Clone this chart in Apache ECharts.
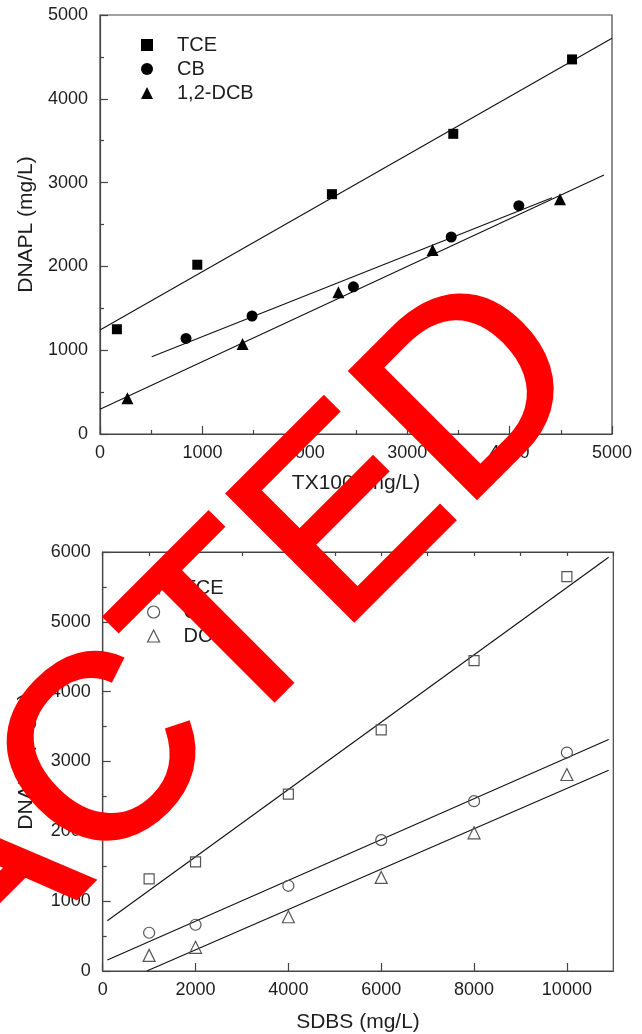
<!DOCTYPE html>
<html><head><meta charset="utf-8">
<script src="https://cdn.jsdelivr.net/npm/echarts@6/dist/echarts.min.js"></script>
<style>html,body{margin:0;padding:0;background:#fff}#c{width:642px;height:1034px}</style>
</head><body><div id="c"></div>
<script>
// ---- Top panel (TX100) ----
const topXTicks = [0, 1000, 2000, 3000, 4000, 5000];
const topYTicks = [0, 1000, 2000, 3000, 4000, 5000];
const topNames = ['TCE', 'CB', '1,2-DCB'];
const tceTX = [[165, 1250], [950, 2020], [2265, 2862], [3450, 3582], [4610, 4470]];
const cbTX = [[840, 1140], [1485, 1408], [2475, 1756], [3430, 2351], [4090, 2724]];
const dcbTX = [[268, 428], [1392, 1074], [2328, 1692], [3248, 2196], [4492, 2802]];
const tceTXFit = [[0, 1240], [5000, 4722]];
const cbTXFit = [[505, 922], [4414, 2820]];
const dcbTXFit = [[0, 294], [4922, 3091]];

// ---- Bottom panel (SDBS) ----
const botXTicks = [0, 2000, 4000, 6000, 8000, 10000];
const botYTicks = [0, 1000, 2000, 3000, 4000, 5000, 6000];
const botNames = ['TCE', 'CB', 'DCB'];
const sdbsX = [1000, 2000, 4000, 6000, 8000, 10000];
const tceSD = [1320, 1564, 2532, 3452, 4445, 5646];
const cbSD = [548, 662, 1220, 1874, 2432, 3128];
const dcbSD = [224, 339, 777, 1340, 1979, 2814];
const tceSDFit = [[100, 720], [10900, 5925]];
const cbSDFit = [[100, 157], [10900, 3315]];
const dcbSDFit = [[950, 0], [10900, 2876]];

const overlayText = 'REDACTED';

const FONT = '"Liberation Sans", Arial, Helvetica, sans-serif';
const TXT = '#1e1e1e';
const AX = '#444';
const HOLLOW = { color: '#fff', borderColor: '#555', borderWidth: 1.2 };
const pair = (xs, ys) => xs.map((x, i) => [x, ys[i]]);
const plain = v => String(v);

function valAxis(gridIndex, min, max, interval, opts) {
  return Object.assign({
    type: 'value', gridIndex, min, max, interval,
    axisLine: { show: true, lineStyle: { color: AX, width: 1.2 } },
    axisTick: { show: true, inside: true, length: 8, lineStyle: { color: AX, width: 1.2 } },
    minorTick: { show: true, splitNumber: 2, length: 4, lineStyle: { color: AX, width: 1.2 } },
    splitLine: { show: false },
    minorSplitLine: { show: false },
    axisLabel: { show: true, color: TXT, fontSize: 18, fontFamily: FONT, margin: 10, formatter: plain },
    nameTextStyle: { color: TXT, fontSize: 21, fontFamily: FONT }
  }, opts || {});
}

const fitLine = (name, data, xi, yi) => ({
  type: 'line', name: name + ' fit', data, xAxisIndex: xi, yAxisIndex: yi,
  showSymbol: false, symbol: 'none', silent: true, animation: false,
  lineStyle: { color: '#111', width: 1.1 }, z: 1
});
const scat = (name, data, symbol, size, xi, yi, hollow) => ({
  type: 'scatter', name, data, symbol, symbolSize: size, xAxisIndex: xi, yAxisIndex: yi,
  animation: false, z: 3,
  itemStyle: hollow ? { color: 'rgba(255,255,255,0)', borderColor: '#555', borderWidth: 1.2, opacity: 1 }
                    : { color: '#000', opacity: 1 }
});

const chart = echarts.init(document.getElementById('c'), null, { renderer: 'canvas' });
chart.setOption({
  animation: false,
  backgroundColor: '#fff',
  textStyle: { fontFamily: FONT },
  grid: [
    { left: 100, top: 15, width: 512, height: 419, show: true, borderColor: AX, borderWidth: 1.2, backgroundColor: 'transparent' },
    { left: 102.7, top: 552, width: 510.6, height: 419, show: true, borderColor: AX, borderWidth: 1.2, backgroundColor: 'transparent' }
  ],
  xAxis: [
    valAxis(0, topXTicks[0], topXTicks[topXTicks.length - 1], 1000, {
      name: 'TX100 (mg/L)', nameLocation: 'middle', nameGap: 39
    }),
    valAxis(1, botXTicks[0], 11000, 2000, {
      name: 'SDBS (mg/L)', nameLocation: 'middle', nameGap: 41,
      minorTick: { show: false },
      axisLabel: { show: true, color: TXT, fontSize: 18, fontFamily: FONT, margin: 10, showMaxLabel: false, formatter: plain }
    }),
    valAxis(1, 0, 11000, 1000, {
      axisLabel: { show: false }, minorTick: { show: false },
      axisTick: { show: true, inside: true, length: 4, lineStyle: { color: AX, width: 1.2 } }
    })
  ],
  yAxis: [
    valAxis(0, topYTicks[0], topYTicks[topYTicks.length - 1], 1000, {
      name: 'DNAPL (mg/L)', nameLocation: 'middle', nameGap: 63,
      axisLabel: { show: true, color: TXT, fontSize: 18, fontFamily: FONT, margin: 12, formatter: plain }
    }),
    valAxis(1, botYTicks[0], botYTicks[botYTicks.length - 1], 1000, {
      name: 'DNAPL (mg/L)', nameLocation: 'middle', nameGap: 66,
      axisLabel: { show: true, color: TXT, fontSize: 18, fontFamily: FONT, margin: 12, formatter: plain }
    })
  ],
  legend: [
    {
      data: topNames, orient: 'vertical', left: 141, top: 35, padding: 0,
      itemWidth: 12, itemHeight: 12, itemGap: 4, selectedMode: false,
      textStyle: { color: TXT, fontSize: 20, fontFamily: FONT, lineHeight: 20, padding: [0, 0, 0, 19] }
    },
    {
      data: botNames.map(n => ({ name: n, itemStyle: HOLLOW })), orient: 'vertical', left: 147, top: 578, padding: 0,
      itemWidth: 12, itemHeight: 12, itemGap: 4, selectedMode: false,
      textStyle: { color: TXT, fontSize: 20, fontFamily: FONT, lineHeight: 20, padding: [0, 0, 0, 19] }
    }
  ],
  graphic: [
    {
      type: 'text', x: 544, y: 329, rotation: Math.PI / 4, z: 100, silent: true,
      style: { text: overlayText, fill: '#ff0000', stroke: '#ff0000', lineWidth: 4,
               font: '260px "Liberation Sans", Arial, sans-serif', align: 'right', verticalAlign: 'middle' }
    }
  ],
  series: [
    fitLine('TCE', tceTXFit, 0, 0),
    fitLine('CB', cbTXFit, 0, 0),
    fitLine('1,2-DCB', dcbTXFit, 0, 0),
    scat(topNames[0], tceTX, 'rect', 10, 0, 0, false),
    scat(topNames[1], cbTX, 'circle', 11, 0, 0, false),
    scat(topNames[2], dcbTX, 'triangle', 12, 0, 0, false),
    fitLine('TCE2', tceSDFit, 1, 1),
    fitLine('CB2', cbSDFit, 1, 1),
    fitLine('DCB2', dcbSDFit, 1, 1),
    scat(botNames[0], pair(sdbsX, tceSD), 'rect', 10, 1, 1, true),
    scat(botNames[1], pair(sdbsX, cbSD), 'circle', 11, 1, 1, true),
    scat(botNames[2], pair(sdbsX, dcbSD), 'triangle', 12, 1, 1, true)
  ]
});
</script></body></html>
